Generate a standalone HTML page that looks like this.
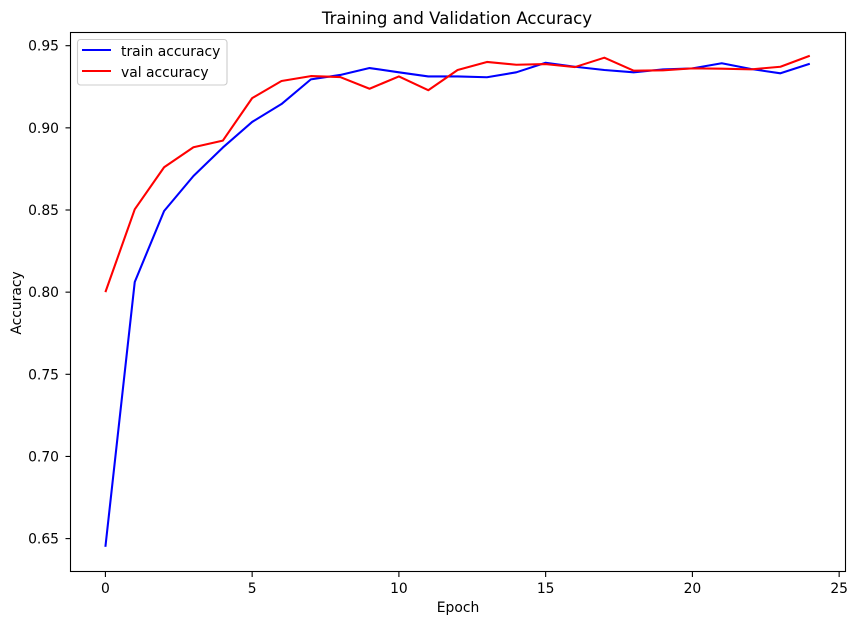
<!DOCTYPE html>
<html>
<head>
<meta charset="utf-8">
<title>Training and Validation Accuracy</title>
<style>
html,body{margin:0;padding:0;background:#fff;}
svg{display:block;}
text{font-family:"DejaVu Sans","Liberation Sans",sans-serif;fill:#000;}
</style>
</head>
<body>
<svg id="chart" width="857" height="624" viewBox="0 0 857 624" xmlns="http://www.w3.org/2000/svg">
<rect x="0" y="0" width="857" height="624" fill="#fff"/>
<g id="series"></g>
<rect x="70.5" y="32.5" width="775" height="539" fill="none" stroke="#000" stroke-width="1.1"/>
<g id="xticks"></g>
<g id="yticks"></g>
<text x="457" y="24" font-size="16.6" text-anchor="middle">Training and Validation Accuracy</text>
<text x="458" y="612" font-size="13.89" text-anchor="middle">Epoch</text>
<text x="0" y="0" font-size="13.89" text-anchor="middle" transform="translate(21 303) rotate(-90)">Accuracy</text>
<g>
<rect x="77.5" y="39.5" width="149.5" height="45.5" rx="3" ry="3" fill="#fff" fill-opacity="0.8" stroke="#ccc" stroke-width="1.1"/>
<line x1="82" y1="50" x2="111" y2="50" stroke="#0000ff" stroke-width="2.08"/>
<text x="121" y="56" font-size="13.89">train accuracy</text>
<line x1="82" y1="71" x2="111" y2="71" stroke="#ff0000" stroke-width="2.08"/>
<text x="121" y="77" font-size="13.89">val accuracy</text>
</g>
</svg>
<script>
var trainAccuracy = [0.645,0.8062,0.8494,0.8707,0.888,0.9036,0.9145,0.9295,0.9322,0.9364,0.9338,0.9313,0.9313,0.9308,0.9338,0.9396,0.9372,0.9352,0.9338,0.9356,0.9362,0.9393,0.9358,0.9332,0.939];
var valAccuracy = [0.80,0.8504,0.876,0.8882,0.8922,0.9181,0.9285,0.9315,0.9309,0.9238,0.9313,0.9229,0.9352,0.9401,0.9384,0.9388,0.937,0.9427,0.9348,0.935,0.9362,0.936,0.9356,0.9372,0.9439];
var xTickValues = [0,5,10,15,20,25];
var yTickValues = [0.65,0.70,0.75,0.80,0.85,0.90,0.95];

var NS = 'http://www.w3.org/2000/svg';
function xScale(v){ return 105.4 + v * 29.35; }
function yScale(v){ return 538.6 - (v - 0.65) * 1643; }

function drawSeries(values, color, name){
  var line = document.createElementNS(NS, 'polyline');
  var pts = values.map(function(v, i){ return xScale(i).toFixed(2) + ',' + yScale(v).toFixed(2); });
  line.setAttribute('points', pts.join(' '));
  line.setAttribute('fill', 'none');
  line.setAttribute('stroke', color);
  line.setAttribute('stroke-width', '2.08');
  line.setAttribute('stroke-linejoin', 'round');
  
  
  document.getElementById('series').appendChild(line);
}
drawSeries(trainAccuracy, '#0000ff', 'train-accuracy-line');
drawSeries(valAccuracy, '#ff0000', 'val-accuracy-line');

xTickValues.forEach(function(v){
  var g = document.getElementById('xticks');
  var x = xScale(v);
  var t = document.createElementNS(NS, 'line');
  t.setAttribute('x1', x); t.setAttribute('x2', x);
  t.setAttribute('y1', 572); t.setAttribute('y2', 577);
  t.setAttribute('stroke', '#000');
  t.setAttribute('stroke-width', '1.1');
  
  
  g.appendChild(t);
  var l = document.createElementNS(NS, 'text');
  l.setAttribute('x', x); l.setAttribute('y', 593);
  l.setAttribute('font-size', '13.89');
  l.setAttribute('text-anchor', 'middle');
  
  
  l.textContent = String(v);
  g.appendChild(l);
});

yTickValues.forEach(function(v){
  var g = document.getElementById('yticks');
  var y = yScale(v);
  var t = document.createElementNS(NS, 'line');
  t.setAttribute('x1', 65.5); t.setAttribute('x2', 70);
  t.setAttribute('y1', y); t.setAttribute('y2', y);
  t.setAttribute('stroke', '#000');
  t.setAttribute('stroke-width', '1.1');
  
  
  g.appendChild(t);
  var l = document.createElementNS(NS, 'text');
  l.setAttribute('x', 59); l.setAttribute('y', y + 5);
  l.setAttribute('font-size', '13.89');
  l.setAttribute('text-anchor', 'end');
  
  
  l.textContent = v.toFixed(2);
  g.appendChild(l);
});
</script>
</body>
</html>
